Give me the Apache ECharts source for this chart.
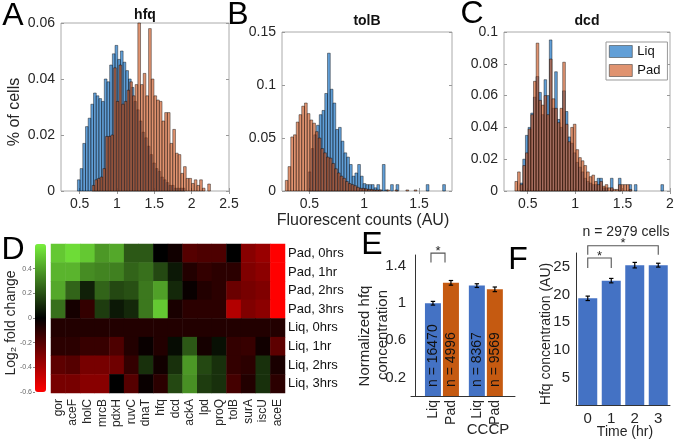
<!DOCTYPE html>
<html><head><meta charset="utf-8">
<script src="https://cdn.jsdelivr.net/npm/echarts@6/dist/echarts.min.js"></script>
<style>html,body{margin:0;padding:0;background:#fff}#c{width:677px;height:442px}</style>
</head><body><div id="c"></div>
<script>
const FONT = '"Liberation Sans", Arial, Helvetica, sans-serif';
const TXT = '#262626';

// ---------- Panels A-C: histograms (bin start, bin width, heights) ----------
const hfqBin = 0.036, hfqLiqStart = 0.47, hfqPadStart = 0.667;
const hfqLiq = [0.004,0.008,0.017,0.023,0.026,0.031,0.035,0.034,0.033,0.032,0.040,0.039,0.045,0.049,0.052,0.047,0.050,0.046,0.043,0.040,0.037,0.032,0.029,0.025,0.021,0.019,0.016,0.013,0.010,0.008,0.007,0.005,0.004,0.003,0.002,0.002,0.001,0.001,0.001,0.001];
const hfqPad = [0.002,0.004,0.0045,0.005,0.008,0.0195,0.0195,0.020,0.044,0.032,0.045,0.031,0.032,0.036,0.039,0.034,0.038,0.060,0.038,0.042,0.034,0.058,0.040,0.034,0.0325,0.032,0.025,0.028,0.028,0.017,0.022,0.0135,0.013,0.0063,0.0087,0.0045,0.0045,0.0027,0.004,0.002,0.004,0.001,0,0.0025];

const tolbBin = 0.025, tolbLiqStart = 0.49, tolbPadStart = 0.28;
const tolbLiq = [0.018,0.040,0.053,0.062,0.072,0.076,0.092,0.130,0.096,0.083,0.058,0.060,0.047,0.036,0.032,0.025,0.014,0.017,0.025,0.014,0.007,0.006,0.006,0.006,0.003,0.006,0.001,0.025,0.001,0,0.006,0,0.006,0,0,0,0,0,0,0,0,0,0,0.006,0,0,0,0,0,0.006];
const tolbPad = [0.010,0.023,0.051,0.053,0.065,0.072,0.080,0.083,0.073,0.067,0.064,0.056,0.050,0.040,0.036,0.032,0.031,0.026,0.021,0.017,0.014,0.012,0.009,0.007,0.006,0.005,0.0035,0.0025,0.0025,0.002,0.0015,0.0015,0.001,0.001,0.001,0,0,0.001,0,0,0.001,0,0,0,0.001,0,0,0.001];

const dcdBin = 0.028, dcdLiqStart = 0.42, dcdPadStart = 0.365;
const dcdLiq = [0.005,0.020,0.035,0.040,0.049,0.059,0.072,0.062,0.048,0.070,0.060,0.095,0.052,0.075,0.045,0.040,0.063,0.050,0.034,0.030,0.024,0.018,0.015,0.012,0.008,0.006,0.005,0.004,0.004,0.008,0.008,0.002,0.002,0,0.008,0,0,0.008,0,0,0,0.004,0,0.004,0,0,0,0,0,0,0,0,0,0.004];
const dcdPad = [0.006,0.012,0.004,0.016,0.024,0.039,0.048,0.069,0.093,0.057,0.054,0.060,0.048,0.083,0.058,0.052,0.043,0.052,0.081,0.042,0.031,0.040,0.042,0.026,0.021,0.019,0.016,0.012,0.009,0.010,0.006,0.004,0.006,0.003,0.004,0.002,0.002,0.001,0.001,0.004,0.004,0.004,0.004,0.001];

const ticksA = [0.5,1,1.5,2,2.5], ticksB = [0.5,1,1.5], ticksC = [0.5,1,1.5,2];
const yTicksA = [0,0.02,0.04,0.06], yTicksB = [0,0.05,0.1,0.15], yTicksC = [0,0.02,0.04,0.06,0.08,0.1];

// ---------- Panel D: heatmap ----------
const genes = ['gor','aceF','holC','mrcB','pdxH','ruvC','dnaT','hfq','dcd','ackA','lpd','proQ','tolB','surA','iscU','aceE'];
const conditions = ['Pad, 0hrs','Pad, 1hr','Pad, 2hrs','Pad, 3hrs','Liq, 0hrs','Liq, 1hr','Liq, 2hrs','Liq, 3hrs'];
const padHr0 = [0.50,0.55,0.50,0.38,0.42,0.22,0.22,0.00,-0.04,-0.20,-0.18,-0.18,0.00,-0.32,-0.36,-0.60];
const padHr1 = [0.45,0.45,0.35,0.33,0.32,0.25,0.28,0.18,0.06,-0.08,-0.12,-0.10,-0.10,-0.30,-0.33,-0.60];
const padHr2 = [0.42,0.25,0.08,0.25,0.18,0.20,0.30,0.40,0.10,-0.02,-0.08,-0.10,-0.25,-0.28,-0.30,-0.60];
const padHr3 = [0.28,-0.05,-0.12,0.15,0.06,0.10,0.30,0.50,-0.06,-0.10,-0.10,-0.10,-0.42,-0.30,-0.33,-0.60];
const liqHr0 = [-0.08,-0.08,-0.08,-0.08,-0.08,-0.08,-0.08,-0.08,-0.08,-0.08,-0.08,-0.08,-0.08,-0.08,-0.08,-0.08];
const liqHr1 = [-0.10,-0.10,-0.13,-0.13,-0.18,-0.08,-0.02,-0.08,0.03,0.22,-0.05,0.04,-0.12,-0.13,-0.04,-0.22];
const liqHr2 = [-0.22,-0.20,-0.28,-0.28,-0.26,-0.12,0.12,-0.04,0.12,0.38,0.18,0.12,-0.12,-0.10,0.12,-0.06];
const liqHr3 = [-0.28,-0.28,-0.32,-0.32,0.00,-0.20,-0.02,-0.10,0.18,0.36,0.15,0.12,-0.16,-0.08,0.12,-0.10];
const heatRows = [padHr0,padHr1,padHr2,padHr3,liqHr0,liqHr1,liqHr2,liqHr3];
const colorbarTicks = [-0.6,-0.4,-0.2,0,0.2,0.4];

// ---------- Panel E ----------
const eLabels = ['Liq','Pad','Liq','Pad'];
const ePos = [1,2,3.44,4.44];
const eValues = [1.0,1.22,1.19,1.15];
const eErrors = [0.02,0.025,0.02,0.025];
const eCounts = [16470,4996,8367,9569];
const eTicks = [0.2,0.6,1,1.4];
const eBrackets = [[0.89,1.67,1.44,1.54]];

// ---------- Panel F ----------
const fTimes = ['0','1','2','3'];
const fValues = [19.3,22.5,25.3,25.3];
const fErrors = [0.4,0.4,0.5,0.35];
const fTicks = [5,10,15,20,25];
const fBrackets = [[0,3,27.2,28.8],[0,1,24.8,26.6]];

// ---------- styles ----------
const LIQ_FILL = 'rgba(0,100,190,0.62)', PAD_FILL = 'rgba(205,80,25,0.62)';
const BAR_BLUE = '#4472C4', BAR_ORANGE = '#C55A11';
const FRAME = '#aaaaaa';

function bins(start, w, arr){
  return arr.map((h,i)=>[start+i*w, start+(i+1)*w, h]).filter(d=>d[2]>0);
}
function histSeries(name, xi, data, fill){
  return {type:'custom', name, xAxisIndex:xi, yAxisIndex:xi, data, encode:{x:[0,1], y:2},
    itemStyle:{color:fill}, silent:true,
    renderItem(params, api){
      const p0 = api.coord([api.value(0), api.value(2)]);
      const p1 = api.coord([api.value(1), 0]);
      return {type:'rect', shape:{x:p0[0], y:p0[1], width:p1[0]-p0[0], height:p1[1]-p0[1]},
        style:{fill, stroke:'rgba(0,0,0,0.7)', lineWidth:0.6}};
    }};
}
function histX(grid, min, max, ticks, top){
  return {type:'value', gridIndex:grid, min, max, position: top?'top':'bottom',
    axisLine:{show:false}, splitLine:{show:false},
    axisTick:{show:true, inside:true, length:3, customValues:ticks, lineStyle:{color:'#999'}},
    axisLabel:{show:!top, customValues:ticks, fontSize:14, fontFamily:FONT, color:TXT, margin:6}};
}
function histY(grid, max, ticks, right){
  return {type:'value', gridIndex:grid, min:0, max, position: right?'right':'left',
    axisLine:{show:false}, splitLine:{show:false},
    axisTick:{show:true, inside:true, length:3, customValues:ticks, lineStyle:{color:'#999'}},
    axisLabel:{show:!right, customValues:ticks, fontSize:14, fontFamily:FONT, color:TXT, margin:6}};
}
function errSeries(xi, data){
  return {type:'custom', xAxisIndex:xi, yAxisIndex:xi, data, encode:{x:0,y:1}, silent:true, clip:false, z:5,
    renderItem(params, api){
      const x = api.value(0), y = api.value(1), e = api.value(2);
      const hi = api.coord([x, y+e]), lo = api.coord([x, y-e]);
      const w = 2.2, st = {stroke:'#000', lineWidth:1.2};
      return {type:'group', children:[
        {type:'line', shape:{x1:hi[0],y1:hi[1],x2:lo[0],y2:lo[1]}, style:st},
        {type:'line', shape:{x1:hi[0]-w,y1:hi[1],x2:hi[0]+w,y2:hi[1]}, style:st},
        {type:'line', shape:{x1:lo[0]-w,y1:lo[1],x2:lo[0]+w,y2:lo[1]}, style:st}]};
    }};
}
function bracketSeries(xi, data){
  return {type:'custom', xAxisIndex:xi, yAxisIndex:xi, data, encode:{x:[0,1],y:[2,3]}, silent:true, clip:false, z:5,
    renderItem(params, api){
      const a = api.coord([api.value(0), api.value(2)]);
      const b = api.coord([api.value(1), api.value(2)]);
      const t = api.coord([api.value(0), api.value(3)])[1];
      return {type:'group', children:[
        {type:'polyline', shape:{points:[[a[0],a[1]],[a[0],t],[b[0],t],[b[0],b[1]]]}, style:{stroke:'#555', lineWidth:1.1, fill:null}},
        {type:'text', x:(a[0]+b[0])/2, y:t-2, style:{text:'*', font:'13px '+FONT, fill:'#222', align:'center', verticalAlign:'middle'}}]};
    }};
}
function txt(s, x, y, size, o){
  o = o || {};
  return {type:'text', x, y, rotation:o.rot||0, silent:true,
    style:{text:s, font:(o.bold?'bold ':'')+size+'px '+FONT, fill:o.color||TXT, align:'center', verticalAlign:'middle'}};
}

const heatData = [];
heatRows.forEach((row, r)=>row.forEach((v, c)=>heatData.push([c, r, v])));

const chart = echarts.init(document.getElementById('c'), null, {renderer:'canvas'});
chart.setOption({
  animation:false,
  textStyle:{fontFamily:FONT},
  grid:[
    {left:61, top:23, width:168, height:168, show:true, borderColor:FRAME, borderWidth:1},
    {left:282, top:32, width:170, height:159, show:true, borderColor:FRAME, borderWidth:1},
    {left:504, top:32, width:166, height:159, show:true, borderColor:FRAME, borderWidth:1},
    {left:35, top:244, width:11, height:148},
    {left:51, top:244, width:234, height:149},
    {left:411, top:255, width:104, height:141},
    {left:576, top:253, width:94, height:152}
  ],
  xAxis:[
    histX(0,0.25,2.5,ticksA,false), histX(0,0.25,2.5,ticksA,true),
    histX(1,0.25,1.8,ticksB,false), histX(1,0.25,1.8,ticksB,true),
    histX(2,0.25,2,ticksC,false), histX(2,0.25,2,ticksC,true),
    {type:'value', gridIndex:3, min:0, max:1, show:false},
    {type:'category', gridIndex:4, data:genes, axisLine:{show:false}, axisTick:{show:false},
      axisLabel:{rotate:90, interval:0, fontSize:12, fontFamily:FONT, color:TXT, margin:6}},
    {type:'value', gridIndex:5, min:-0.22, max:5.56, splitLine:{show:false},
      axisLine:{show:true, lineStyle:{color:'#333'}}, axisTick:{show:false},
      axisLabel:{customValues:ePos, rotate:90, fontSize:14, fontFamily:FONT, color:TXT, margin:4,
        formatter:v=>{const i = ePos.findIndex(p=>Math.abs(p-v)<1e-6); return i>=0?eLabels[i]:'';}}},
    {type:'category', gridIndex:6, data:fTimes, axisLine:{show:true, lineStyle:{color:'#333'}}, axisTick:{show:false},
      axisLabel:{fontSize:15, fontFamily:FONT, color:TXT, margin:6}}
  ],
  yAxis:[
    histY(0,0.06,yTicksA,false), histY(0,0.06,yTicksA,true),
    histY(1,0.15,yTicksB,false), histY(1,0.15,yTicksB,true),
    histY(2,0.1,yTicksC,false), histY(2,0.1,yTicksC,true),
    {type:'value', gridIndex:3, min:-0.6, max:0.6, splitLine:{show:false}, axisLine:{show:false},
      axisTick:{show:true, length:2, customValues:colorbarTicks, lineStyle:{color:'#888'}},
      axisLabel:{customValues:colorbarTicks, fontSize:7, color:'#666', margin:3}},
    {type:'category', gridIndex:4, data:conditions, inverse:true, position:'right', axisLine:{show:false}, axisTick:{show:false},
      axisLabel:{fontSize:13, fontFamily:FONT, color:'#111', margin:3}},
    {type:'value', gridIndex:5, min:0, max:1.52, splitLine:{show:false},
      axisLine:{show:true, lineStyle:{color:'#333'}}, axisTick:{show:false},
      axisLabel:{customValues:eTicks, fontSize:15, fontFamily:FONT, color:TXT, margin:5}},
    {type:'value', gridIndex:6, min:0, max:27.5, splitLine:{show:false},
      axisLine:{show:true, lineStyle:{color:'#333'}}, axisTick:{show:false},
      axisLabel:{customValues:fTicks, fontSize:15, fontFamily:FONT, color:TXT, margin:6}}
  ],
  visualMap:{type:'continuous', min:-0.6, max:0.6, seriesIndex:6, calculable:false, left:35, top:244,
    itemWidth:11, itemHeight:148, padding:0, text:null, hoverLink:false,
    inRange:{color:['#ff0000','#000000','#78f03c']}},
  legend:{orient:'vertical', left:606, top:42, padding:[3,7,3,3], itemWidth:23, itemHeight:12, itemGap:6,
    backgroundColor:'#fff', borderColor:'#999', borderWidth:1, selectedMode:false,
    textStyle:{fontSize:13, fontFamily:FONT, color:'#111'},
    data:[{name:'Liq', icon:'rect', itemStyle:{color:LIQ_FILL, borderColor:'#444', borderWidth:0.6}},
          {name:'Pad', icon:'rect', itemStyle:{color:PAD_FILL, borderColor:'#444', borderWidth:0.6}}]},
  series:[
    histSeries('Liq',0,bins(hfqLiqStart,hfqBin,hfqLiq),LIQ_FILL),
    histSeries('Pad',0,bins(hfqPadStart,hfqBin,hfqPad),PAD_FILL),
    histSeries('Liq',2,bins(tolbLiqStart,tolbBin,tolbLiq),LIQ_FILL),
    histSeries('Pad',2,bins(tolbPadStart,tolbBin,tolbPad),PAD_FILL),
    histSeries('Liq',4,bins(dcdLiqStart,dcdBin,dcdLiq),LIQ_FILL),
    histSeries('Pad',4,bins(dcdPadStart,dcdBin,dcdPad),PAD_FILL),
    {type:'heatmap', name:'heat', xAxisIndex:7, yAxisIndex:7, data:heatData, silent:true, itemStyle:{borderWidth:0}},
    {type:'bar', name:'E', xAxisIndex:8, yAxisIndex:8, barWidth:16, silent:true,
      data:ePos.map((x,i)=>({value:[x,eValues[i]], itemStyle:{color: eLabels[i]==='Liq'?BAR_BLUE:BAR_ORANGE}})),
      label:{show:true, position:'insideBottom', rotate:90, align:'left', verticalAlign:'middle', distance:9,
        fontSize:14, fontFamily:FONT, color:'#111', formatter:p=>'n = '+eCounts[p.dataIndex]}},
    errSeries(8, ePos.map((x,i)=>[x,eValues[i],eErrors[i]])),
    bracketSeries(8, eBrackets),
    {type:'bar', name:'F', xAxisIndex:9, yAxisIndex:9, barWidth:19, silent:true, itemStyle:{color:BAR_BLUE}, data:fValues},
    errSeries(9, fValues.map((v,i)=>[i,v,fErrors[i]])),
    bracketSeries(9, fBrackets)
  ],
  graphic:[
    txt('A',13,16,32,{color:'#000'}), txt('B',238,15,32,{color:'#000'}), txt('C',472,14,32,{color:'#000'}),
    txt('D',13,250,32,{color:'#000'}), txt('E',372,245,32,{color:'#000'}), txt('F',518,260,32,{color:'#000'}),
    txt('hfq',145,15,14,{bold:true,color:'#111'}), txt('tolB',367,21,14,{bold:true,color:'#111'}), txt('dcd',587,21,14,{bold:true,color:'#111'}),
    txt('% of cells',15,112,16,{rot:Math.PI/2}),
    txt('Fluorescent counts (AU)',363,221,16),
    txt('Log\u2082 fold change',11,323,14,{rot:Math.PI/2}),
    txt('Normalized hfq',365,336,15,{rot:Math.PI/2}),
    txt('concentration',383,335,15,{rot:Math.PI/2}),
    txt('CCCP',488,430,15),
    txt('n = 2979 cells',626,232,14),
    txt('Hfq concentration (AU)',546,334,14,{rot:Math.PI/2}),
    txt('Time (hr)',625,432,14)
  ]
});
</script></body></html>
